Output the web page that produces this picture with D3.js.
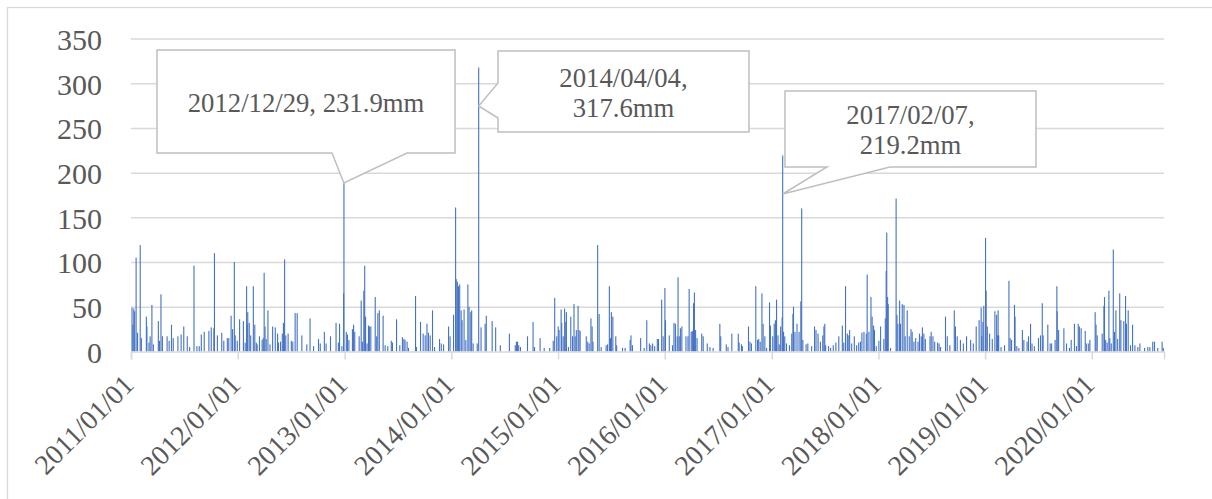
<!DOCTYPE html>
<html>
<head>
<meta charset="utf-8">
<script src="https://cdn.jsdelivr.net/npm/d3@7"></script>
<style>
  html, body { margin: 0; padding: 0; background: #fff; }
  #chart { width: 1212px; height: 499px; }
</style>
</head>
<body>
<div id="chart"></div>
<script>
// daily rainfall (mm), [day of year, value]
const rain2011 = [[4,49],[7,30],[10,48],[13,45],[18,105],[23,21],[32,119],[36,15],[53,39],[55,28],[62,10],[66,17],[72,52],[77,8],[94,34],[98,12],[103,64],[108,17],[124,17],[131,12],[139,30],[145,15],[161,17],[172,19],[181,28],[193,17],[201,5],[216,96],[226,6],[234,6],[241,19],[251,22],[267,23],[275,27],[284,26],[286,110],[296,18],[311,21],[318,12],[330,15],[335,15],[343,40],[348,25],[354,100],[357,18],[364,12]];
const rain2012 = [[7,36],[20,34],[26,10],[31,73],[33,30],[35,44],[40,32],[45,18],[54,73],[59,30],[64,10],[67,8],[75,17],[84,13],[88,15],[91,88],[94,28],[98,14],[104,46],[111,8],[120,28],[129,27],[137,20],[140,10],[147,11],[153,20],[157,32],[161,103],[165,18],[173,20],[184,12],[189,11],[197,43],[204,43],[220,18],[237,8],[248,37],[260,6],[277,14],[283,9],[297,22],[303,9],[318,17],[337,32],[345,10],[349,31],[357,6],[363,65],[364,231.9]];
const rain2013 = [[6,22],[10,19],[15,13],[27,25],[31,30],[35,22],[50,17],[57,57],[61,11],[66,68],[69,96],[72,39],[77,9],[82,29],[85,28],[90,28],[105,61],[110,17],[114,43],[119,46],[132,40],[139,7],[148,6],[160,12],[164,10],[178,36],[189,7],[198,16],[203,14],[207,13],[214,11],[219,4],[243,62],[246,5],[260,33],[269,20],[276,18],[282,31],[287,21],[293,18],[301,46],[308,5],[325,14],[331,9],[339,8],[356,28],[361,17]];
const rain2014 = [[8,41],[15,161],[17,81],[21,78],[25,73],[29,75],[34,46],[37,35],[44,47],[50,13],[57,75],[61,50],[67,44],[70,46],[75,9],[89,9],[94,317.6],[102,27],[116,31],[120,40],[140,34],[152,27],[168,7],[199,20],[219,7],[223,11],[227,11],[231,7],[237,5],[261,17],[280,33],[285,5],[304,15],[318,4],[337,4],[349,12],[354,60],[361,17]];
const rain2015 = [[1,28],[4,24],[11,47],[13,32],[18,17],[23,48],[27,33],[29,44],[36,5],[44,39],[50,17],[55,53],[59,17],[63,24],[69,51],[72,24],[76,23],[97,17],[102,11],[107,9],[113,37],[117,28],[120,11],[136,119],[141,42],[148,5],[165,7],[170,8],[176,73],[180,15],[183,44],[188,39],[198,17],[201,7],[221,4],[230,4],[247,13],[250,18],[255,7],[283,15],[295,4],[304,35],[313,9],[318,7],[324,9],[331,6],[340,14],[344,14],[355,58],[360,17]];
const rain2016 = [[1,71],[3,35],[16,18],[27,7],[32,32],[37,31],[43,17],[46,83],[50,17],[54,26],[59,28],[73,17],[80,17],[84,70],[91,22],[95,23],[99,54],[102,66],[106,24],[111,15],[127,20],[132,17],[146,9],[155,5],[166,4],[189,31],[192,17],[211,8],[217,5],[230,20],[252,20],[255,10],[263,8],[266,6],[287,28],[292,11],[297,9],[312,73],[318,13],[322,14],[327,11],[333,65],[337,31],[343,17],[349,4],[359,55],[362,29]];
const rain2017 = [[4,17],[9,31],[13,35],[17,58],[22,18],[26,8],[31,28],[36,38],[38,219.2],[41,22],[45,17],[51,9],[61,7],[69,20],[73,42],[75,50],[80,22],[87,31],[94,22],[100,56],[103,160],[107,13],[118,8],[124,9],[137,6],[147,28],[152,24],[159,20],[167,11],[175,18],[179,28],[182,31],[185,7],[195,6],[202,4],[211,7],[220,10],[230,17],[242,29],[247,10],[253,73],[259,20],[262,18],[267,24],[274,9],[283,17],[291,7],[298,10],[304,11],[309,21],[316,22],[324,20],[327,86],[333,22],[340,61],[344,39],[349,29],[352,24],[358,6]];
const rain2018 = [[2,12],[8,28],[19,14],[24,37],[27,90],[29,133],[32,61],[34,53],[42,4],[61,171],[64,41],[67,31],[73,57],[76,31],[82,53],[88,52],[92,17],[99,46],[106,17],[112,25],[116,22],[122,11],[128,15],[136,11],[141,20],[147,17],[151,27],[156,20],[161,14],[177,17],[181,22],[187,17],[193,11],[203,10],[208,9],[213,5],[230,39],[236,17],[245,7],[260,46],[264,28],[270,17],[281,13],[291,9],[302,17],[316,13],[325,9],[335,28],[345,35],[352,49],[354,17],[358,33],[361,51]];
const rain2019 = [[2,127],[4,68],[8,28],[16,20],[25,14],[34,45],[40,41],[43,18],[45,46],[47,18],[55,5],[67,7],[82,79],[86,15],[91,13],[101,52],[103,39],[109,6],[116,4],[128,24],[133,13],[144,11],[149,17],[156,31],[161,9],[169,6],[183,15],[190,18],[196,54],[199,18],[215,30],[223,9],[228,9],[240,13],[246,73],[247,45],[252,24],[270,26],[279,9],[289,4],[295,13],[306,31],[313,6],[319,31],[323,28],[329,26],[343,23],[348,9],[355,9],[359,13]];
const rain2020 = [[12,44],[15,30],[19,18],[36,20],[42,51],[44,61],[48,13],[53,10],[59,68],[62,15],[67,9],[74,114],[78,22],[83,46],[89,14],[96,65],[100,35],[110,34],[116,62],[119,31],[125,46],[133,7],[140,30],[148,7],[158,5],[165,9],[181,4],[192,5],[199,5],[209,11],[215,11],[226,4],[241,11],[245,4]];

const years = [2011, 2012, 2013, 2014, 2015, 2016, 2017, 2018, 2019, 2020];
const yearly = [rain2011, rain2012, rain2013, rain2014, rain2015, rain2016, rain2017, rain2018, rain2019, rain2020];
const startDate = "2011-01-01";
const endDate = "2020-09-04";
const yTicks = [0, 50, 100, 150, 200, 250, 300, 350];

// callouts: date and label lines
const notes = [
  { date: "2012-12-29", lines: ["2012/12/29, 231.9mm"] },
  { date: "2014-04-04", lines: ["2014/04/04,", "317.6mm"] },
  { date: "2017-02-07", lines: ["2017/02/07,", "219.2mm"] },
];

function createRainChart(containerId) {
  const W = 1212, H = 499;
  const margin = { top: 38.5, right: 48, bottom: 147.5, left: 131 };
  const width = W - margin.left - margin.right;
  const height = H - margin.top - margin.bottom;
  const textColor = "#595959";
  const gridColor = "#d9d9d9";
  const serif = "'Liberation Serif', 'Times New Roman', serif";

  const data = [];
  yearly.forEach((list, i) => {
    list.forEach(([doy, mm]) => data.push({ date: new Date(years[i], 0, doy), value: mm }));
  });

  const svg = d3.select(`#${containerId}`).html("").append("svg")
    .attr("width", W).attr("height", H);

  // outer frame
  svg.append("rect")
    .attr("x", 7.5).attr("y", 7.5).attr("width", W + 20).attr("height", H + 20)
    .attr("fill", "none").attr("stroke", gridColor).attr("stroke-width", 1.3);

  const g = svg.append("g").attr("transform", `translate(${margin.left},${margin.top})`);

  const x = d3.scaleTime()
    .domain([new Date(startDate + "T00:00"), new Date(endDate + "T00:00")])
    .range([0, width]);
  const y = d3.scaleLinear().domain([0, 350]).range([height, 0]);

  // gridlines
  const grid = g.append("g")
    .call(d3.axisLeft(y).tickValues(yTicks.slice(1)).tickSize(-width).tickFormat(""));
  grid.select(".domain").remove();
  grid.selectAll("line").attr("stroke", gridColor).attr("stroke-width", 1.5);

  // y labels
  const yAxis = g.append("g").call(d3.axisLeft(y).tickValues(yTicks).tickSize(0).tickPadding(29));
  yAxis.select(".domain").remove();
  yAxis.selectAll("text")
    .attr("fill", textColor).style("font-family", serif).style("font-size", "30px")
    .attr("dy", "0.36em");

  // bars
  const dayW = x(new Date(2011, 0, 2)) - x(new Date(2011, 0, 1));
  g.selectAll(".bar").data(data).enter().append("rect")
    .attr("class", "bar")
    .attr("x", (d) => x(d.date) + dayW / 2 - 0.55)
    .attr("width", 1.1)
    .attr("y", (d) => y(d.value))
    .attr("height", (d) => height - y(d.value))
    .attr("fill", "#4472c4");

  // x axis
  const yearTicks = years.map((yr) => new Date(yr, 0, 1));
  const xAxis = g.append("g").attr("transform", `translate(0,${height})`)
    .call(d3.axisBottom(x).tickValues(yearTicks).tickSize(8).tickFormat(d3.timeFormat("%Y/%m/%d")));
  xAxis.select(".domain").attr("stroke", gridColor).attr("stroke-width", 1.5);
  xAxis.selectAll("line").attr("stroke", gridColor).attr("stroke-width", 1.5);
  xAxis.selectAll("text")
    .attr("fill", textColor).style("font-family", serif).style("font-size", "28px")
    .attr("x", 0).attr("y", 0).attr("dy", "0.35em")
    .attr("text-anchor", "end")
    .attr("transform", "translate(-3,28) rotate(-45)");

  // callouts (white shapes sit over the bars)
  const shapes = [
    (tx) => `M157,50H455V153H407L${tx},183L332,153H157Z`,
    (tx) => `M498,51H749V132H498V118L${tx},106L498,83Z`,
    (tx) => `M785,91H1036V167H890L${tx},194L827,167H785Z`,
  ];
  const boxes = [
    { cx: 306, y0: 112 },
    { cx: 623.5, y0: 87 },
    { cx: 910.5, y0: 124 },
  ];
  notes.forEach((n, i) => {
    const tx = margin.left + x(new Date(n.date + "T00:00")) + dayW / 2;
    svg.append("path").attr("d", shapes[i](tx.toFixed(1)))
      .attr("fill", "#fff").attr("stroke", "#bfbfbf").attr("stroke-width", 1.5);
    const t = svg.append("text").attr("text-anchor", "middle")
      .attr("fill", textColor).style("font-family", serif).style("font-size", "26.7px");
    n.lines.forEach((line, k) => {
      t.append("tspan").attr("x", boxes[i].cx).attr("y", boxes[i].y0 + k * 30).text(line);
    });
  });
}

createRainChart("chart");
</script>
</body>
</html>
